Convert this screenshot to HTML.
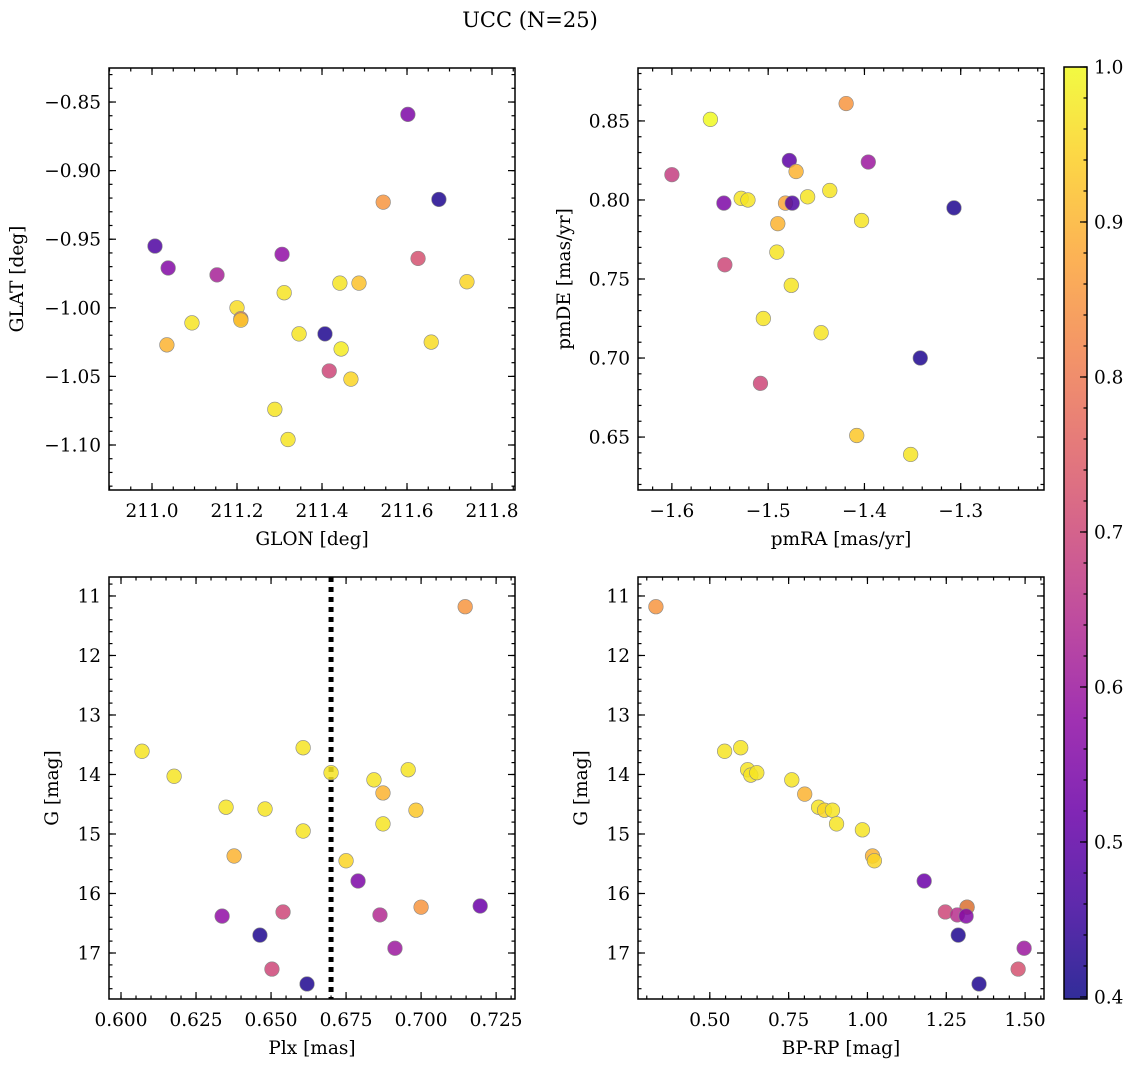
<!DOCTYPE html>
<html><head><meta charset="utf-8"><style>
html,body{margin:0;padding:0;background:#fff;}
svg{display:block;font-family:"DejaVu Serif","Liberation Serif",serif;}
</style></head><body>
<svg id="fig" width="1136" height="1067" viewBox="0 0 1136 1067" xmlns="http://www.w3.org/2000/svg">
<text x="530" y="27" font-size="21" text-anchor="middle">UCC (N=25)</text>
</svg>
<script>
// Panel 1: GLON vs GLAT
const glon=[211.602,211.544,211.675,211.007,211.038,211.153,211.306,211.626,211.442,211.487,211.741,211.311,211.200,211.209,211.209,211.094,211.035,211.346,211.407,211.445,211.657,211.417,211.468,211.289,211.320];
const glat=[-0.859,-0.923,-0.921,-0.955,-0.971,-0.976,-0.961,-0.964,-0.982,-0.982,-0.981,-0.989,-1.000,-1.008,-1.009,-1.011,-1.027,-1.019,-1.019,-1.030,-1.025,-1.046,-1.052,-1.074,-1.096];
const prob1=[0.55,0.85,0.42,0.48,0.56,0.62,0.58,0.72,0.97,0.92,0.95,0.97,0.96,0.80,0.93,0.97,0.90,0.97,0.42,0.98,0.96,0.70,0.95,0.97,0.97];
// Panel 2: pmRA vs pmDE
const pmra=[-1.560,-1.419,-1.600,-1.478,-1.396,-1.471,-1.436,-1.459,-1.528,-1.521,-1.546,-1.482,-1.475,-1.307,-1.403,-1.490,-1.491,-1.545,-1.476,-1.505,-1.445,-1.342,-1.508,-1.408,-1.352];
const pmde=[0.851,0.861,0.816,0.825,0.824,0.818,0.806,0.802,0.801,0.800,0.798,0.798,0.798,0.795,0.787,0.785,0.767,0.759,0.746,0.725,0.716,0.700,0.684,0.651,0.639];
const prob2=[1.0,0.85,0.68,0.50,0.60,0.90,0.97,0.97,0.97,0.97,0.55,0.88,0.48,0.42,0.97,0.90,0.97,0.70,0.97,0.97,0.97,0.42,0.70,0.93,0.97];
// Panel 3: Plx vs G
const plx=[0.7147,0.6070,0.6607,0.6177,0.6700,0.6957,0.6843,0.6873,0.6350,0.6480,0.6983,0.6873,0.6607,0.6377,0.6750,0.6790,0.7000,0.7197,0.6540,0.6337,0.6863,0.6463,0.6913,0.6503,0.6620];
const gmag3=[11.18,13.61,13.55,14.03,13.97,13.92,14.09,14.31,14.55,14.58,14.60,14.83,14.95,15.37,15.45,15.79,16.23,16.21,16.31,16.38,16.36,16.70,16.92,17.27,17.52];
const prob3=[0.85,0.97,0.97,0.97,0.97,0.97,0.97,0.90,0.97,0.97,0.93,0.97,0.97,0.90,0.95,0.55,0.85,0.52,0.70,0.58,0.64,0.42,0.60,0.70,0.42];
const plxLine=[0.6700];
// Panel 4: BP-RP vs G
const bprp=[0.329,0.547,0.598,0.620,0.630,0.649,0.760,0.801,0.845,0.864,0.889,0.902,0.984,1.016,1.022,1.180,1.316,1.316,1.247,1.285,1.313,1.288,1.497,1.478,1.354];
const gmag4=[11.18,13.61,13.55,13.92,14.01,13.97,14.09,14.33,14.55,14.60,14.60,14.83,14.93,15.37,15.45,15.79,16.23,16.23,16.31,16.36,16.38,16.70,16.92,17.27,17.52];
const prob4=[0.85,0.97,0.97,0.97,0.97,0.97,0.97,0.90,0.97,0.95,0.97,0.97,0.97,0.90,0.95,0.52,0.45,0.85,0.70,0.65,0.56,0.42,0.60,0.72,0.42];
// Colorbar ticks
const cbTicks=[0.4,0.5,0.6,0.7,0.8,0.9,1.0];
const cbLabels=["0.4","0.5","0.6","0.7","0.8","0.9","1.0"];

const NS="http://www.w3.org/2000/svg";
const svg=document.getElementById('fig');
function mk(tag,attrs,parent){const e=document.createElementNS(NS,tag);for(const k in attrs)e.setAttribute(k,attrs[k]);(parent||svg).appendChild(e);return e;}
const plasmaStops=[[13,8,135],[65,4,157],[106,0,168],[143,13,164],[177,42,144],[204,71,120],[225,100,98],[242,132,75],[252,166,54],[252,206,37],[240,249,33]];
function plasma(t){t=Math.max(0,Math.min(1,t));const s=t*10;const i=Math.min(9,Math.floor(s));const f=s-i;const a=plasmaStops[i],b=plasmaStops[i+1];
 return 'rgb('+[0,1,2].map(k=>Math.round(a[k]+(b[k]-a[k])*f)).join(',')+')';}
const VMIN=0.3987,VMAX=1.0;
function cmap(v){return plasma((v-VMIN)/(VMAX-VMIN));}
function fmtNeg(s){return s.replace('-','\u2212');}
const FS=18.5;

function panel(cfg){
 const g=mk('g',{});
 
 
 const L=cfg.left,T=cfg.top,W=406,H=422;
 const sx=v=>L+(v-cfg.xd[0])/(cfg.xd[1]-cfg.xd[0])*W;
 const sy=v=>T+(v-cfg.yd[0])/(cfg.yd[1]-cfg.yd[0])*H;
 const ticks=mk('g',{stroke:'#000','stroke-width':1.2},g);
 
 
 function ticksAlong(step,len,isX,dom){
  const lo=Math.min(dom[0],dom[1]),hi=Math.max(dom[0],dom[1]);
  const k0=Math.ceil(lo/step-1e-6),k1=Math.floor(hi/step+1e-6);
  for(let k=k0;k<=k1;k++){const v=k*step;
   if(isX){const x=sx(v);mk('line',{x1:x,x2:x,y1:T+H,y2:T+H-len},ticks);mk('line',{x1:x,x2:x,y1:T,y2:T+len},ticks);}
   else{const y=sy(v);mk('line',{x1:L,x2:L+len,y1:y,y2:y},ticks);mk('line',{x1:L+W,x2:L+W-len,y1:y,y2:y},ticks);}
  }}
 ticksAlong(cfg.xminor,3.5,true,cfg.xd);ticksAlong(cfg.yminor,3.5,false,cfg.yd);
 cfg.xticks.forEach(v=>{const x=sx(v);mk('line',{x1:x,x2:x,y1:T+H,y2:T+H-7},ticks);mk('line',{x1:x,x2:x,y1:T,y2:T+7},ticks);});
 cfg.yticks.forEach(v=>{const y=sy(v);mk('line',{x1:L,x2:L+7,y1:y,y2:y},ticks);mk('line',{x1:L+W,x2:L+W-7,y1:y,y2:y},ticks);});
 cfg.xticks.forEach((v,i)=>{const t=mk('text',{x:sx(v),y:T+H+27,'font-size':FS,'text-anchor':'middle'},g);t.textContent=fmtNeg(cfg.xlab[i]);
  });
 cfg.yticks.forEach((v,i)=>{const t=mk('text',{x:L-8,y:sy(v)+6.5,'font-size':FS,'text-anchor':'end'},g);t.textContent=fmtNeg(cfg.ylab[i]);
  });
 const xt=mk('text',{x:L+W/2,y:T+H+55,'font-size':FS,'text-anchor':'middle'},g);xt.textContent=cfg.xtitle;
 
 const yt=mk('text',{x:cfg.ytx,y:T+H/2,'font-size':FS,'text-anchor':'middle',transform:'rotate(-90 '+cfg.ytx+' '+(T+H/2)+')'},g);yt.textContent=cfg.ytitle;
 
 if(cfg.vline){cfg.vline.forEach(v=>{const ln=mk('line',{x1:sx(v),x2:sx(v),y1:T,y2:T+H,stroke:'#000','stroke-width':5,'stroke-dasharray':'5 5'},g);
  });}
 const pts=mk('g',{},g);
 
 cfg.xs.forEach((v,i)=>{const c=mk('circle',{cx:sx(v),cy:sy(cfg.ys[i]),r:7.3,fill:cmap(cfg.cs[i]),'fill-opacity':0.85,stroke:'#888','stroke-width':0.6},pts);
  });
 const fr=mk('rect',{x:L,y:T,width:W,height:H,fill:'none',stroke:'#000','stroke-width':1.5},g);
 
}
panel({name:'glon-glat-panel',left:109,top:68,xd:[210.8988,211.8541],yd:[-0.8252,-1.1328],
 xticks:[211.0,211.2,211.4,211.6,211.8],xlab:['211.0','211.2','211.4','211.6','211.8'],xminor:0.05,
 yticks:[-0.85,-0.90,-0.95,-1.00,-1.05,-1.10],ylab:['-0.85','-0.90','-0.95','-1.00','-1.05','-1.10'],yminor:0.01,
 xtitle:'GLON [deg]',ytitle:'GLAT [deg]',ytx:23,xs:glon,ys:glat,cs:prob1});
panel({name:'pm-panel',left:638,top:68,xd:[-1.6352,-1.2135],yd:[0.8835,0.6165],
 xticks:[-1.6,-1.5,-1.4,-1.3],xlab:['-1.6','-1.5','-1.4','-1.3'],xminor:0.02,
 yticks:[0.85,0.80,0.75,0.70,0.65],ylab:['0.85','0.80','0.75','0.70','0.65'],yminor:0.01,
 xtitle:'pmRA [mas/yr]',ytitle:'pmDE [mas/yr]',ytx:570,xs:pmra,ys:pmde,cs:prob2});
panel({name:'plx-g-panel',left:109,top:577,xd:[0.5960,0.7313],yd:[10.681,17.773],
 xticks:[0.600,0.625,0.650,0.675,0.700,0.725],xlab:['0.600','0.625','0.650','0.675','0.700','0.725'],xminor:0.005,
 yticks:[11,12,13,14,15,16,17],ylab:['11','12','13','14','15','16','17'],yminor:0.2,
 xtitle:'Plx [mas]',ytitle:'G [mag]',ytx:58,xs:plx,ys:gmag3,cs:prob3,vline:plxLine});
panel({name:'cmd-panel',left:638,top:577,xd:[0.2722,1.560],yd:[10.681,17.773],
 xticks:[0.50,0.75,1.00,1.25,1.50],xlab:['0.50','0.75','1.00','1.25','1.50'],xminor:0.05,
 yticks:[11,12,13,14,15,16,17],ylab:['11','12','13','14','15','16','17'],yminor:0.2,
 xtitle:'BP-RP [mag]',ytitle:'G [mag]',ytx:587,xs:bprp,ys:gmag4,cs:prob4});

// Colorbar
const cb=mk('g',{});


const defs=mk('defs',{},cb);
const grad=mk('linearGradient',{id:'cbg',x1:0,y1:1,x2:0,y2:0},defs);
for(let i=0;i<=20;i++){mk('stop',{offset:i/20,'stop-color':plasma(i/20),'stop-opacity':0.85},grad);}
const CBL=1064,CBT=67,CBW=23,CBH=932;
const cy=v=>CBT+CBH-(v-VMIN)/(VMAX-VMIN)*CBH;
mk('rect',{x:CBL,y:CBT,width:CBW,height:CBH,fill:'url(#cbg)'},cb);
for(let k=20;k<=50;k++){const v=k*0.02;if(v<VMIN||v>VMAX+1e-9)continue;const y=cy(v);mk('line',{x1:CBL+CBW,x2:CBL+CBW-3.5,y1:y,y2:y,stroke:'#000','stroke-width':1.2},cb);}
cbTicks.forEach((v,i)=>{const y=cy(v);mk('line',{x1:CBL+CBW,x2:CBL+CBW-7,y1:y,y2:y,stroke:'#000','stroke-width':1.2},cb);
 const t=mk('text',{x:CBL+CBW+7,y:y+6.5,'font-size':FS},cb);t.textContent=cbLabels[i];
 });
mk('rect',{x:CBL,y:CBT,width:CBW,height:CBH,fill:'none',stroke:'#000','stroke-width':1.5},cb);
</script>
</body></html>
